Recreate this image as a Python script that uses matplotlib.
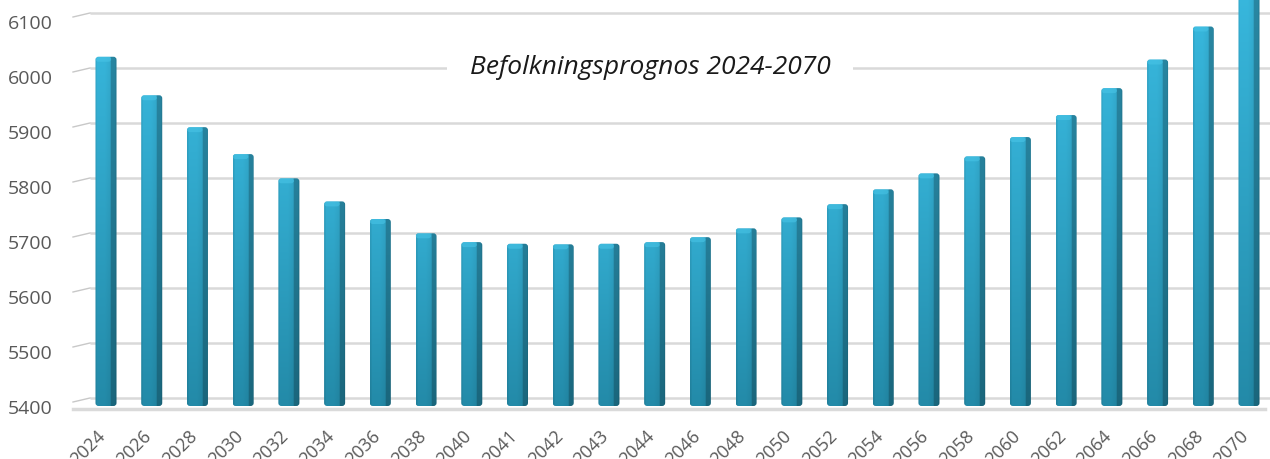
import numpy as np
import matplotlib
matplotlib.use("Agg")
import matplotlib.pyplot as plt
import matplotlib.transforms as mtransforms
from matplotlib.patches import FancyBboxPatch

# ---------------- data ----------------
years = ["2024", "2026", "2028", "2030", "2032", "2034", "2036", "2038", "2040",
         "2041", "2042", "2043", "2044", "2046", "2048", "2050", "2052", "2054",
         "2056", "2058", "2060", "2062", "2064", "2066", "2068", "2070"]
population = [6035, 5965, 5907, 5858, 5814, 5772, 5740, 5714, 5698,
              5695, 5694, 5695, 5698, 5707, 5723, 5743, 5767, 5794,
              5823, 5854, 5889, 5929, 5978, 6030, 6090, 6160]
y_ticks = [5400, 5500, 5600, 5700, 5800, 5900, 6000, 6100]
title = "Befolkningsprognos 2024-2070"

# ---------------- layout ----------------
W, H, DPI = 1270, 459, 100
fig = plt.figure(figsize=(W / DPI, H / DPI), dpi=DPI)
fig.patch.set_facecolor("white")

ax_left_px, ax_right_px, ax_top_px, ax_bottom_px = 75, 1270, 0, 410
ax = fig.add_axes([ax_left_px / W, (H - ax_bottom_px) / H,
                   (ax_right_px - ax_left_px) / W, (ax_bottom_px - ax_top_px) / H])
ax.set_facecolor("none")

px_per_unit_y = 0.55      # pixels per 1 person
base_px = 406             # pixel row of 5400 (front plane)
px_per_bar = 45.72
first_bar_px = 106

y0 = y_ticks[0]
ax.set_ylim(y0 - (ax_bottom_px - base_px) / px_per_unit_y,
            y0 + (base_px - ax_top_px) / px_per_unit_y)
xlim = ((ax_left_px - first_bar_px) / px_per_bar,
        (ax_right_px - first_bar_px) / px_per_bar)
ax.set_xlim(*xlim)

for s in ax.spines.values():
    s.set_visible(False)

x = np.arange(len(years))
span = ax_right_px - ax_left_px

# ---------------- back gridlines (3D look) ----------------
back_off = mtransforms.ScaledTranslation(0, 8 / DPI, fig.dpi_scale_trans)
grid_tr = ax.get_yaxis_transform() + back_off
wall_x = (90 - ax_left_px) / span
stub_tr = ax.get_yaxis_transform() + mtransforms.ScaledTranslation(0, 4 / DPI, fig.dpi_scale_trans)
for t in y_ticks:
    ax.plot([wall_x, 1.0], [t, t], transform=grid_tr, color="#D9D9D9", lw=1.8,
            zorder=1, solid_capstyle="butt")
    p0 = stub_tr.transform((-(ax_left_px - 73) / span, t))
    p1 = grid_tr.transform((wall_x, t))
    fig.add_artist(plt.Line2D([p0[0] / W, p1[0] / W], [p0[1] / H, p1[1] / H],
                              transform=fig.transFigure, color="#C8C8C8", lw=1.0))

# floor front edge
floor_tr = ax.get_yaxis_transform() + mtransforms.ScaledTranslation(0, -3 / DPI, fig.dpi_scale_trans)
ax.plot([-(ax_left_px - 73) / span, (1265 - ax_left_px) / span],
        [y0, y0], transform=floor_tr, color="#DADADA", lw=2.5, zorder=1, clip_on=False)

# ---------------- bars with gradient ----------------
bar_w = 0.46
nx, ny = 42, 200
u = np.linspace(0, 1, nx)
v = np.linspace(0, 1, ny)
U, V = np.meshgrid(u, v)
bottom_col = np.array([35, 138, 168]) / 255.0
top_col = np.array([56, 184, 222]) / 255.0


def make_grad(frac_top):
    t = np.clip((V * frac_top)[..., None], 0, 1)
    col = bottom_col + (top_col - bottom_col) * t
    shade = np.ones_like(U)
    shade = np.where(U < 0.07, 0.92, shade)
    shade = np.where((U >= 0.45) & (U < 0.72), 1.0 - (U - 0.45) * 0.2, shade)
    shade = np.where(U >= 0.72, 0.74, shade)
    shade = np.where(U >= 0.94, 0.68, shade)
    img = col * shade[..., None]
    return np.clip(img, 0, 1)


max_h = max(population) - y0
r_x = 3.0 / px_per_bar
r_y = 3.0 / px_per_unit_y
for xi, val in zip(x, population):
    h = val - y0
    patch = FancyBboxPatch((xi - bar_w / 2, y0), bar_w, h,
                           boxstyle=f"round,pad=0,rounding_size={r_x}",
                           mutation_aspect=r_y / r_x,
                           facecolor="none", edgecolor="none", zorder=3)
    ax.add_patch(patch)
    grad = make_grad(0.5 + 0.5 * h / max_h)
    im = ax.imshow(grad, extent=[xi - bar_w / 2, xi + bar_w / 2, y0, val],
                   origin="lower", aspect="auto", zorder=3, interpolation="bilinear")
    im.set_clip_path(patch)
    cap = FancyBboxPatch((xi - bar_w / 2, val - 5 / px_per_unit_y), bar_w * 0.75, 5 / px_per_unit_y,
                         boxstyle=f"round,pad=0,rounding_size={r_x}",
                         mutation_aspect=r_y / r_x,
                         facecolor="#4AC6E8", edgecolor="none", alpha=0.55, zorder=4)
    cap.set_clip_path(patch)
    ax.add_patch(cap)

ax.set_xlim(*xlim)

# ---------------- ticks ----------------
ax.set_yticks(y_ticks)
ax.set_yticklabels([str(t) for t in y_ticks], fontsize=14, color="#595959",
                   family="Open Sans")
ax.tick_params(axis="y", length=0, pad=16)
for lab in ax.get_yticklabels():
    lab.set_transform(lab.get_transform() + mtransforms.ScaledTranslation(0, -1 / DPI, fig.dpi_scale_trans))
ax.set_xticks(x)
ax.set_xticklabels(years, rotation=45, ha="right", va="center",
                   rotation_mode="anchor", fontsize=13, color="#595959",
                   family="Open Sans")
ax.tick_params(axis="x", length=0, pad=17)
for lab in ax.get_xticklabels():
    lab.set_transform(lab.get_transform() + mtransforms.ScaledTranslation(-3 / DPI, 0, fig.dpi_scale_trans))

# ---------------- title ----------------
ax.text((650 - ax_left_px) / span, y_ticks[6], title,
        transform=grid_tr, ha="center", va="center", fontsize=19,
        style="italic", family="Open Sans", color="#1a1a1a", zorder=5,
        bbox=dict(boxstyle="square,pad=0.85", facecolor="white", edgecolor="none"))

fig.savefig("out.png", dpi=DPI, facecolor="white")
